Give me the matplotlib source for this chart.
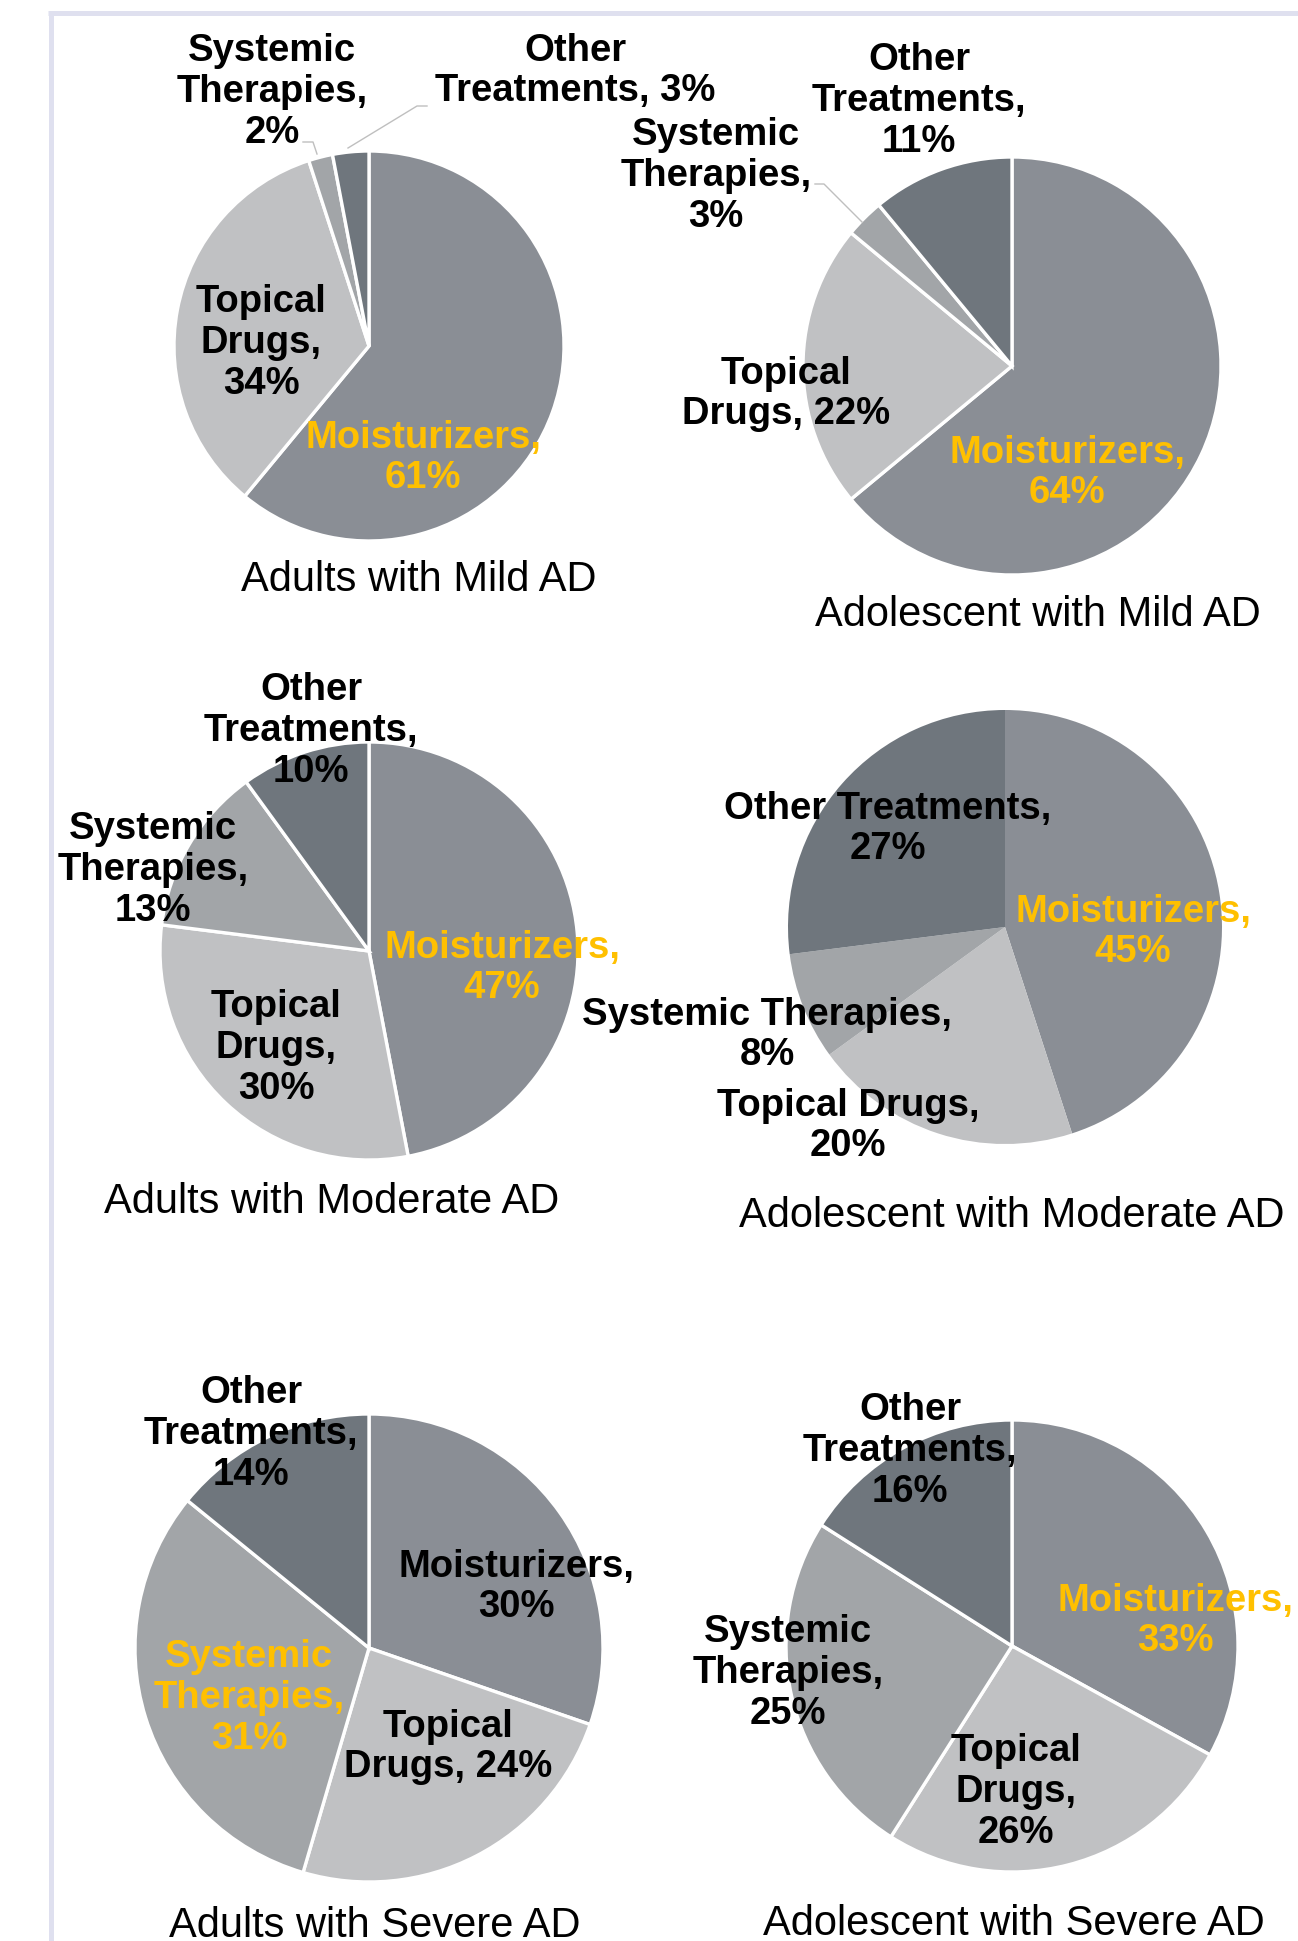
import matplotlib
matplotlib.use("Agg")
import matplotlib.pyplot as plt
from matplotlib.lines import Line2D

plt.rcParams['font.family'] = ['Liberation Sans', 'DejaVu Sans']

W, H = 1298, 1941
DPI = 100

categories = ["Moisturizers", "Topical Drugs", "Systemic Therapies", "Other Treatments"]
colors = ["#8a8e95", "#c0c1c3", "#a2a5a8", "#6f767d"]

titles = ["Adults with Mild AD", "Adolescent with Mild AD",
          "Adults with Moderate AD", "Adolescent with Moderate AD",
          "Adults with Severe AD", "Adolescent with Severe AD"]

adults_mild = [61, 34, 2, 3]
adolescent_mild = [64, 22, 3, 11]
adults_moderate = [47, 30, 13, 10]
adolescent_moderate = [45, 20, 8, 27]
adults_severe = [30, 24, 31, 14]
adolescent_severe = [33, 26, 25, 16]
series = [adults_mild, adolescent_mild, adults_moderate,
          adolescent_moderate, adults_severe, adolescent_severe]

# highlighted (yellow) category per chart
highlight = [0, 0, 0, 0, 2, 0]

# ---------------- layout (pixels) ----------------
pie_geo = [(369, 346, 195), (1012, 366, 209), (369, 951, 209),
           (1005, 927, 217), (369, 1648, 234), (1012, 1646, 226)]
edge_w = [2.4, 2.4, 2.4, 0, 2.4, 2.4]
title_pos = [(419, 591), (1038, 626), (332, 1213), (1012, 1227), (375, 1937), (1014, 1935)]

# label mode: 'stack' (each word on own line), 'tail' (pct on last word line), 'line' (name on one line)
label_mode = [
    ['stack', 'stack', 'stack', 'tail'],
    ['stack', 'tail', 'stack', 'stack'],
    ['stack', 'stack', 'stack', 'stack'],
    ['line', 'line', 'line', 'line'],
    ['stack', 'tail', 'stack', 'stack'],
    ['stack', 'stack', 'stack', 'stack'],
]
label_pos = [
    [(423, 455), (261, 340), (272, 89), (575, 68)],
    [(1067, 470), (786, 391), (716, 173), (919, 98)],
    [(502, 965), (276, 1045), (153, 867), (311, 728)],
    [(1133, 929), (848, 1123), (767, 1032), (888, 826)],
    [(516, 1584), (448, 1744), (249, 1695), (251, 1431)],
    [(1175, 1618), (1016, 1789), (788, 1670), (910, 1448)],
]
leaders = [
    [(303, 142), (313, 142), (317, 154)],
    [(427, 106), (417, 106), (348, 148)],
    [(815, 184), (824, 184), (862, 222)],
]

YELLOW = "#FFC000"
LABEL_FS = 27.5
TITLE_FS = 30


def fx(x):
    return x / W


def fy(y):
    return 1 - y / H


def make_label(name, val, mode):
    words = name.split(" ")
    if mode == 'stack':
        return "\n".join(words) + ",\n" + f"{val}%"
    if mode == 'tail':
        return "\n".join(words) + f", {val}%"
    return name + ",\n" + f"{val}%"


fig = plt.figure(figsize=(W / DPI, H / DPI), dpi=DPI)
fig.patch.set_facecolor("white")

# frame lines (top and left)
fig.add_artist(Line2D([fx(48), fx(W)], [fy(12.5), fy(12.5)], color="#dfe0ef", lw=3.6,
                      transform=fig.transFigure, solid_capstyle='butt'))
fig.add_artist(Line2D([fx(50.5), fx(50.5)], [fy(10.5), fy(H)], color="#dfe0ef", lw=3.6,
                      transform=fig.transFigure, solid_capstyle='butt'))

for i, vals in enumerate(series):
    cx, cy, r = pie_geo[i]
    ax = fig.add_axes([fx(cx - r), fy(cy + r), 2 * r / W, 2 * r / H])
    wp = dict(edgecolor="white", linewidth=edge_w[i]) if edge_w[i] > 0 else dict(linewidth=0)
    ax.pie(vals, colors=colors, startangle=90, counterclock=False, wedgeprops=wp)
    ax.set_xlim(-1, 1)
    ax.set_ylim(-1, 1)
    ax.axis("off")
    for j, name in enumerate(categories):
        lx, ly = label_pos[i][j]
        col = YELLOW if j == highlight[i] else "black"
        fig.text(fx(lx), fy(ly + 3), make_label(name, vals[j], label_mode[i][j]),
                 ha="center", va="center", ma="center", fontsize=LABEL_FS,
                 fontweight="bold", color=col, linespacing=1.165)
    tx, ty = title_pos[i]
    fig.text(fx(tx), fy(ty), titles[i], ha="center", va="baseline",
             fontsize=TITLE_FS, color="black")

for pts in leaders:
    xs = [fx(p[0]) for p in pts]
    ys = [fy(p[1]) for p in pts]
    fig.add_artist(Line2D(xs, ys, color="#bfbfbf", lw=1.0, transform=fig.transFigure))

fig.savefig("out.png", dpi=DPI, facecolor="white")
